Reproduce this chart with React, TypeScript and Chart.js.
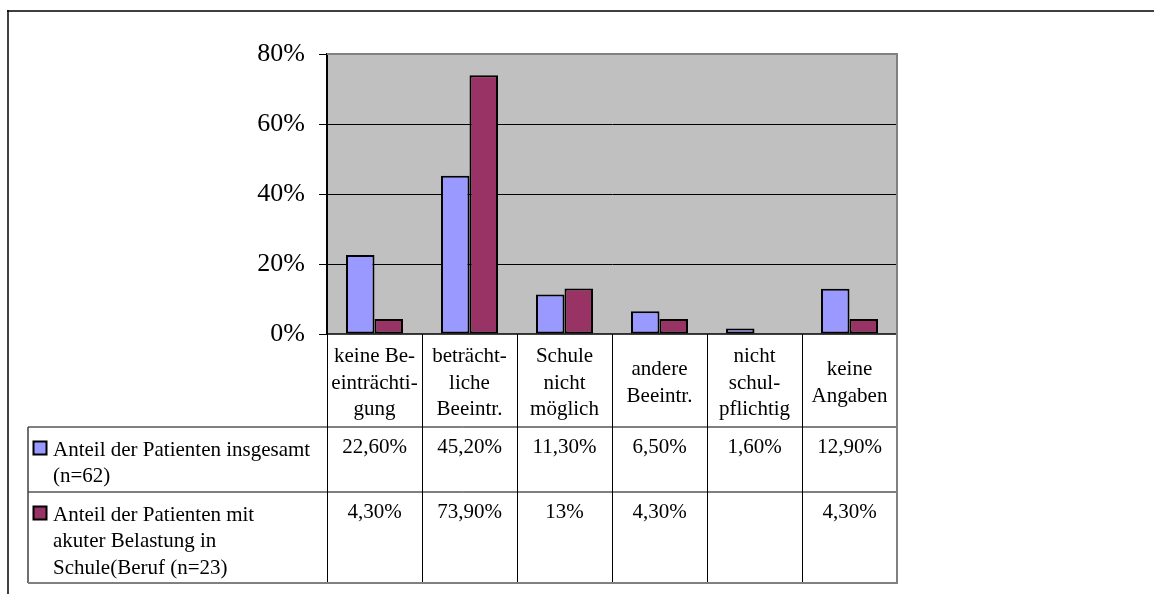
import { useEffect, useRef } from "react";
import { Chart, registerables } from "chart.js";

Chart.register(...registerables);

// Category labels (pre-hyphenated, one entry per line)
const categories: string[][] = [
  ["keine Be-", "einträchti-", "gung"],
  ["beträcht-", "liche", "Beeintr."],
  ["Schule", "nicht", "möglich"],
  ["andere", "Beeintr."],
  ["nicht", "schul-", "pflichtig"],
  ["keine", "Angaben"],
];

// Series names as shown in the data table, one entry per line
const seriesNames: string[][] = [
  ["Anteil der Patienten insgesamt", "(n=62)"],
  ["Anteil der Patienten mit", "akuter Belastung in", "Schule(Beruf (n=23)"],
];

// Shares in percent
const insgesamt: (number | null)[] = [22.6, 45.2, 11.3, 6.5, 1.6, 12.9];
const akuteBelastung: (number | null)[] = [4.3, 73.9, 13, 4.3, null, 4.3];

const seriesColors = ["#9999ff", "#993366"];
const yTicks = [0, 20, 40, 60, 80];

const W = 1154;
const H = 594;
const FONT = '"Liberation Serif", "Times New Roman", serif';

const fmtPercent = (v: number | null) => {
  if (v === null || v === undefined) return "";
  if (Number.isInteger(v)) return `${v}%`;
  return `${v.toFixed(2).replace(".", ",")}%`;
};

const TABLE_LEFT = 28;
const HEAD_H = 93;
const ROW_H = [65, 91];
const LINE_H = 26.5;

const tablePlugin = {
  id: "dataTable",
  beforeDraw(chart: any) {
    const { ctx, chartArea: a } = chart;
    ctx.save();
    ctx.fillStyle = "#ffffff";
    ctx.fillRect(0, 0, W, H);
    ctx.fillStyle = "#c0c0c0";
    ctx.fillRect(a.left, a.top, a.right - a.left, a.bottom - a.top);
    ctx.restore();
  },
  afterDraw(chart: any) {
    const { ctx, chartArea: a } = chart;
    const series = [insgesamt, akuteBelastung];
    const n = categories.length;
    const colW = (a.right - a.left) / n;
    const headTop = a.bottom;
    const headBottom = headTop + HEAD_H;
    const rowTops = [headBottom, headBottom + ROW_H[0]];
    const tableBottom = rowTops[1] + ROW_H[1];

    ctx.save();

    const line = (x1: number, y1: number, x2: number, y2: number, color: string, w: number) => {
      ctx.beginPath();
      ctx.strokeStyle = color;
      ctx.lineWidth = w;
      ctx.moveTo(x1, y1);
      ctx.lineTo(x2, y2);
      ctx.stroke();
    };

    // outer frame
    line(7, 11, W, 11, "#000", 1.5);
    line(8, 10, 8, H, "#000", 1.5);

    // plot border (top, right) and category axis
    line(a.left, a.top, a.right, a.top, "#808080", 2);
    line(a.left, a.bottom, a.right, a.bottom, "#000", 1.5);

    // table grid
    line(TABLE_LEFT, rowTops[0], a.right, rowTops[0], "#000", 1);
    line(TABLE_LEFT, rowTops[1], a.right, rowTops[1], "#000", 1);
    for (let k = 0; k < n; k++) {
      const x = Math.round(a.left + k * colW) + 0.5;
      line(x, headTop, x, tableBottom, "#000", 1);
    }
    line(TABLE_LEFT, rowTops[0], TABLE_LEFT, tableBottom, "#404040", 1.5);
    line(a.right, a.top - 1, a.right, tableBottom, "#808080", 2);
    line(TABLE_LEFT, tableBottom, a.right + 1, tableBottom, "#808080", 2);

    ctx.fillStyle = "#000";
    ctx.font = `21px ${FONT}`;
    ctx.textAlign = "center";
    ctx.textBaseline = "alphabetic";

    // header: category labels, vertically centred
    const headMid = headTop + HEAD_H / 2;
    categories.forEach((lines, i) => {
      const cx = a.left + (i + 0.5) * colW;
      lines.forEach((t, j) => {
        const y = headMid + 8 + (j - (lines.length - 1) / 2) * LINE_H;
        ctx.fillText(t, cx, y);
      });
    });

    // data rows
    series.forEach((vals, r) => {
      const top = rowTops[r];
      // legend key
      ctx.fillStyle = seriesColors[r];
      ctx.fillRect(33.5, top + 14.5, 13, 13);
      ctx.strokeStyle = "#000";
      ctx.lineWidth = 2;
      ctx.strokeRect(33.5, top + 14.5, 13, 13);
      ctx.fillStyle = "#000";
      ctx.textAlign = "left";
      seriesNames[r].forEach((t, j) => {
        ctx.fillText(t, 53, top + 28.5 + j * LINE_H);
      });
      ctx.textAlign = "center";
      vals.forEach((v, i) => {
        const cx = a.left + (i + 0.5) * colW;
        ctx.fillText(fmtPercent(v), cx, top + 25.5);
      });
    });

    ctx.restore();
  },
};

export default function App() {
  const canvasRef = useRef<HTMLCanvasElement | null>(null);

  useEffect(() => {
    const canvas = canvasRef.current;
    if (!canvas) return;
    const chart = new Chart(canvas, {
      type: "bar",
      data: {
        labels: categories,
        datasets: [
          {
            label: seriesNames[0].join(" "),
            data: insgesamt,
            backgroundColor: seriesColors[0],
            borderColor: "#000",
            borderWidth: 2,
            borderSkipped: false,
            categoryPercentage: 0.6,
            barPercentage: 1,
          },
          {
            label: seriesNames[1].join(" "),
            data: akuteBelastung,
            backgroundColor: seriesColors[1],
            borderColor: "#000",
            borderWidth: 2,
            borderSkipped: false,
            categoryPercentage: 0.6,
            barPercentage: 1,
          },
        ],
      },
      options: {
        responsive: false,
        animation: false,
        devicePixelRatio: 1,
        layout: { padding: { left: 0, top: 54, right: W - 897, bottom: H - 334 } },
        plugins: {
          legend: { display: false },
          tooltip: { enabled: false },
          title: { display: false },
        },
        scales: {
          x: { display: false },
          y: {
            min: yTicks[0],
            max: yTicks[yTicks.length - 1],
            afterFit: (scale: any) => {
              scale.width = 327;
            },
            afterBuildTicks: (scale: any) => {
              scale.ticks = yTicks.map((v) => ({ value: v }));
            },
            ticks: {
              color: "#000",
              font: { family: FONT, size: 26 },
              padding: 14,
              callback: (v: any) => `${v}%`,
            },
            grid: {
              color: (c: any) =>
                c.tick && (c.tick.value === yTicks[0] || c.tick.value === yTicks[yTicks.length - 1])
                  ? "rgba(0,0,0,0)"
                  : "#000",
              tickColor: "#000",
              tickLength: 8,
              lineWidth: 1,
            },
            border: { color: "#000", width: 2 },
          },
        },
      },
      plugins: [tablePlugin],
    });
    return () => chart.destroy();
  }, []);

  return (
    <div style={{ position: "absolute", left: 0, top: 0, width: W, height: H, background: "#fff" }}>
      <canvas ref={canvasRef} width={W} height={H} style={{ width: W, height: H, display: "block" }} />
    </div>
  );
}
